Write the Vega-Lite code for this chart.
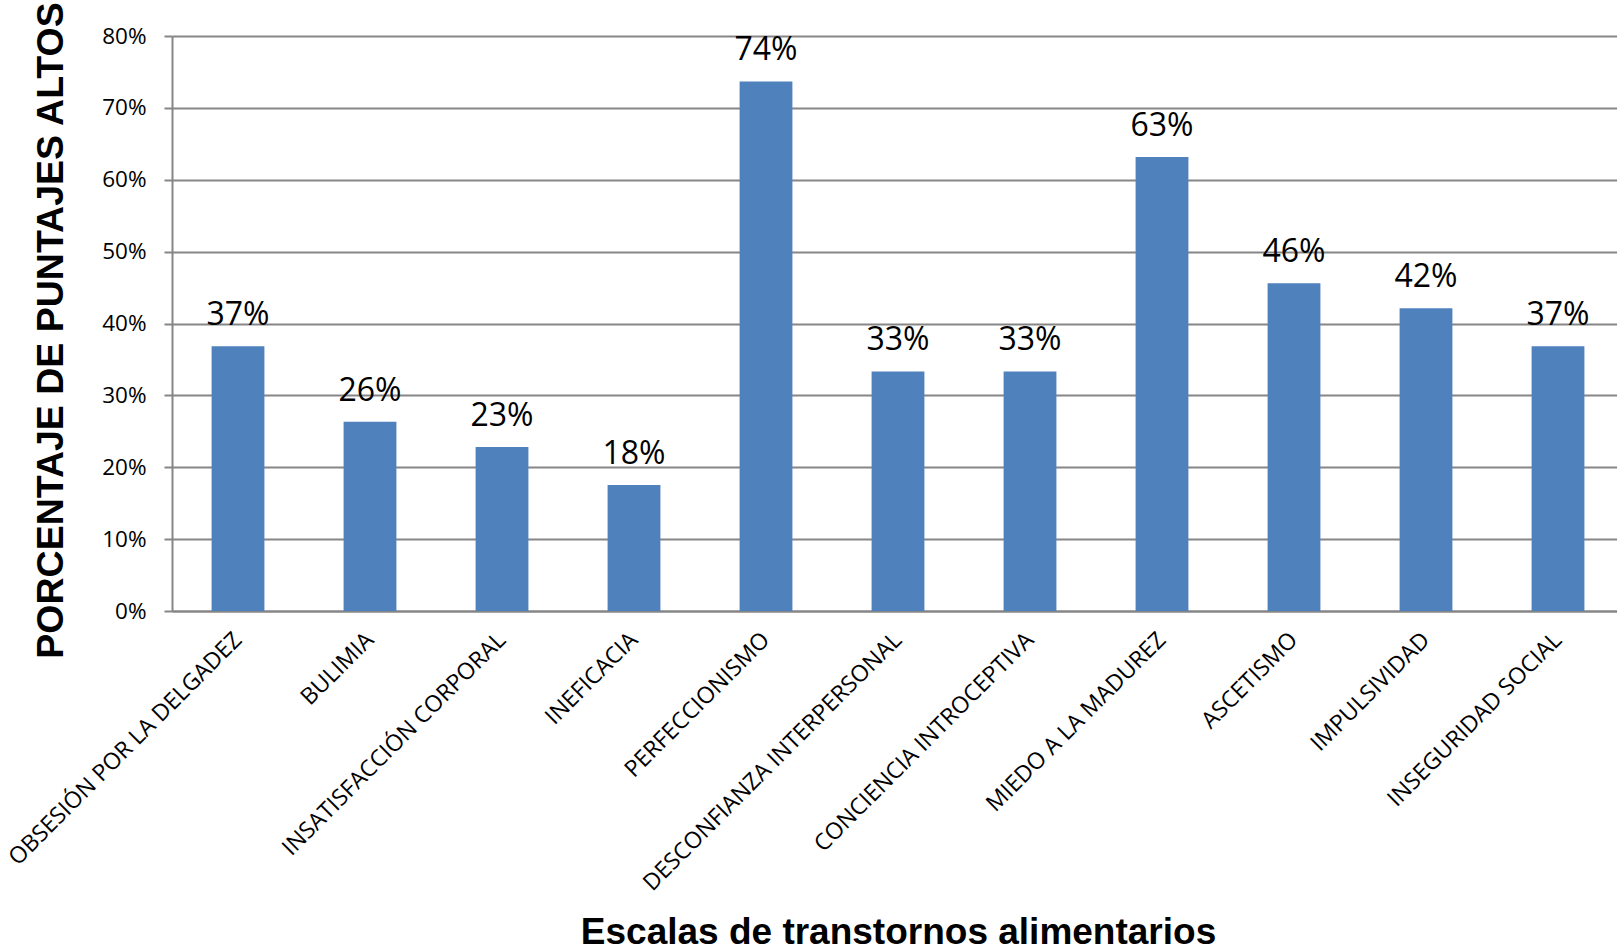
{
  "$schema": "https://vega.github.io/schema/vega-lite/v6.json",
  "autosize": {"type": "none"},
  "padding": {"left": 172, "top": 36, "right": 0, "bottom": 340},
  "width": 1445,
  "height": 575,
  "background": "white",
  "config": {"view": {"stroke": null}},
  "data": {"values": [
    {"escala": "OBSESIÓN POR LA DELGADEZ", "valor": 0.3684},
    {"escala": "BULIMIA", "valor": 0.2632},
    {"escala": "INSATISFACCIÓN CORPORAL", "valor": 0.2281},
    {"escala": "INEFICACIA", "valor": 0.1754},
    {"escala": "PERFECCIONISMO", "valor": 0.7368},
    {"escala": "DESCONFIANZA INTERPERSONAL", "valor": 0.3333},
    {"escala": "CONCIENCIA INTROCEPTIVA", "valor": 0.3333},
    {"escala": "MIEDO A LA MADUREZ", "valor": 0.6316},
    {"escala": "ASCETISMO", "valor": 0.4561},
    {"escala": "IMPULSIVIDAD", "valor": 0.4211},
    {"escala": "INSEGURIDAD SOCIAL", "valor": 0.3684}
  ]},
  "encoding": {
    "x": {
      "field": "escala", "type": "nominal", "sort": null,
      "scale": {"range": [0, 1452], "paddingInner": 0.6, "paddingOuter": 0.3},
      "axis": {
        "title": "Escalas de transtornos alimentarios",
        "titleFont": "Liberation Sans", "titleFontWeight": "bold", "titleFontSize": 37, "titleColor": "black",
        "titleX": 726, "titleY": 332, "titleBaseline": "alphabetic", "titleAnchor": "middle",
        "labelAngle": -45, "labelAlign": "right", "labelBaseline": "middle",
        "labelFont": "Open Sans", "labelFontSize": 23, "labelColor": "black", "labelPadding": 25,
        "labelOverlap": false, "labelLimit": 0,
        "ticks": false, "domainColor": "#868686", "domainWidth": 2, "grid": false
      }
    },
    "y": {
      "field": "valor", "type": "quantitative",
      "scale": {"domain": [0, 0.8], "nice": false},
      "axis": {
        "title": "PORCENTAJE DE PUNTAJES ALTOS",
        "titleFont": "Liberation Sans", "titleFontWeight": "bold", "titleFontSize": 37.5, "titleColor": "black",
        "titleX": -110, "titleY": 294, "titleBaseline": "alphabetic", "titleAngle": -90, "titleAnchor": "middle",
        "values": [0, 0.1, 0.2, 0.3, 0.4, 0.5, 0.6, 0.7, 0.8], "format": ".0%",
        "labelFont": "Open Sans", "labelFontSize": 22.5, "labelColor": "black", "labelPadding": 18,
        "tickSize": 8, "tickColor": "#868686", "tickWidth": 2,
        "domainColor": "#868686", "domainWidth": 2,
        "grid": true, "gridColor": "#868686", "gridWidth": 2
      }
    }
  },
  "layer": [
    {"mark": {"type": "bar", "color": "#4F81BD"}},
    {
      "mark": {"type": "text", "font": "Open Sans", "fontSize": 32, "color": "black", "baseline": "alphabetic", "dy": -21},
      "encoding": {"text": {"field": "valor", "type": "quantitative", "format": ".0%"}}
    }
  ]
}
